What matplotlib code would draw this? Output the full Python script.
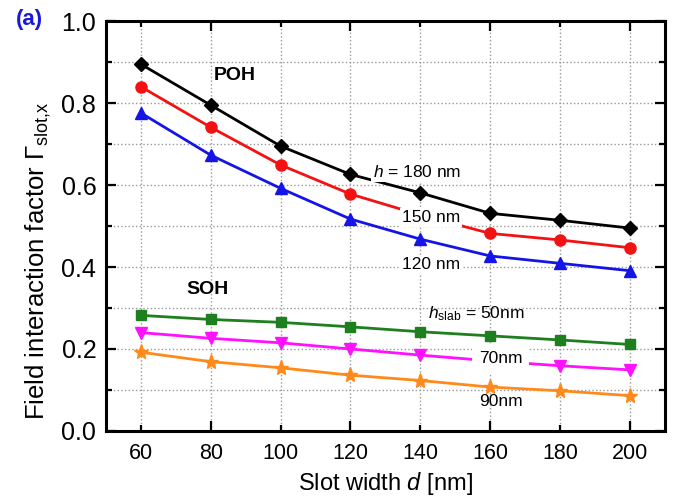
import matplotlib.pyplot as plt

plt.rcParams['font.family'] = ['Liberation Sans', 'DejaVu Sans']
plt.rcParams['mathtext.fontset'] = 'custom'
plt.rcParams['mathtext.rm'] = 'Liberation Sans'
plt.rcParams['mathtext.it'] = 'Liberation Sans:italic'

# slot width d [nm]
d = [60, 80, 100, 120, 140, 160, 180, 200]

# POH, strip height h
poh_180 = [0.895, 0.795, 0.695, 0.626, 0.581, 0.531, 0.514, 0.495]
poh_150 = [0.840, 0.741, 0.649, 0.578, 0.527, 0.482, 0.466, 0.447]
poh_120 = [0.776, 0.673, 0.592, 0.517, 0.468, 0.427, 0.409, 0.391]

# SOH, slab height h_slab
soh_50 = [0.282, 0.272, 0.265, 0.254, 0.242, 0.232, 0.222, 0.211]
soh_70 = [0.240, 0.226, 0.215, 0.200, 0.185, 0.171, 0.159, 0.149]
soh_90 = [0.192, 0.169, 0.154, 0.136, 0.123, 0.107, 0.098, 0.086]

fig = plt.figure(figsize=(6.75, 5.04), dpi=100)
ax = fig.add_axes([0.157, 0.145, 0.828, 0.813])

lw = 2.0
ax.plot(d, poh_180, color='black', marker='D', ms=7, lw=lw, zorder=3)
ax.plot(d, poh_150, color='#f21212', marker='o', ms=8, lw=lw, zorder=3)
ax.plot(d, poh_120, color='#1414e6', marker='^', ms=8.5, lw=lw, zorder=3)
ax.plot(d, soh_50, color='#1e7f1e', marker='s', ms=7, lw=lw, zorder=3)
ax.plot(d, soh_70, color='#ff10ff', marker='v', ms=8.5, lw=lw, zorder=3)
ax.plot(d, soh_90, color='#ff8a1c', marker='*', ms=11, lw=lw, zorder=3)

box = dict(facecolor='white', edgecolor='none', pad=1.5)
fs = 12.5
ax.text(87, 0.868, 'POH', fontsize=14, fontweight='bold', ha='center', va='center')
ax.text(79, 0.344, 'SOH', fontsize=14, fontweight='bold', ha='center', va='center')
ax.text(139, 0.633, '$h$ = 180 nm', fontsize=fs, ha='center', va='center', bbox=box, zorder=4)
ax.text(143, 0.520, '150 nm', fontsize=fs, ha='center', va='center', bbox=box, zorder=4)
ax.text(143, 0.405, '120 nm', fontsize=fs, ha='center', va='center', bbox=box, zorder=4)
ax.text(156, 0.286, '$h_\\mathregular{slab}$ = 50nm', fontsize=fs, ha='center', va='center', zorder=4)
ax.text(163, 0.176, '70nm', fontsize=fs, ha='center', va='center',
        bbox=dict(facecolor='white', edgecolor='none', pad=5), zorder=4)
ax.text(163, 0.071, '90nm', fontsize=fs, ha='center', va='center', zorder=4)

ax.set_xlim(50, 210)
ax.set_ylim(0, 1.0)
ax.set_xticks([80, 120, 160, 200], labels=['80', '120', '160', '200'])
ax.set_xticks([60, 100, 140, 180], labels=['60', '100', '140', '180'], minor=True)
ax.set_yticks([0, 0.2, 0.4, 0.6, 0.8, 1.0])
ax.set_yticks([0.1, 0.3, 0.5, 0.7, 0.9], minor=True)
ax.yaxis.set_major_formatter(plt.FormatStrFormatter('%.1f'))
ax.tick_params(which='both', direction='in', top=True, right=True, width=1.6)
ax.tick_params(which='major', length=7)
ax.tick_params(which='minor', length=4)
ax.tick_params(axis='x', which='both', pad=9, labelsize=15.5)
ax.tick_params(axis='y', which='both', pad=7, labelsize=18)
ax.grid(True, which='both', color='#999999', ls=':', lw=1.0, zorder=0)
for s in ax.spines.values():
    s.set_linewidth(2.2)

ax.set_xlabel('Slot width $d$ [nm]', fontsize=17)
ax.set_ylabel('Field interaction factor Γ$_\\mathregular{slot{,}x}$', fontsize=18.5)
ax.yaxis.set_label_coords(-0.095, 0.415)

fig.text(0.043, 0.962, '(a)', color='#1a1ad6', fontsize=16, fontweight='bold', ha='center', va='center')

fig.savefig('out.png', dpi=100)
